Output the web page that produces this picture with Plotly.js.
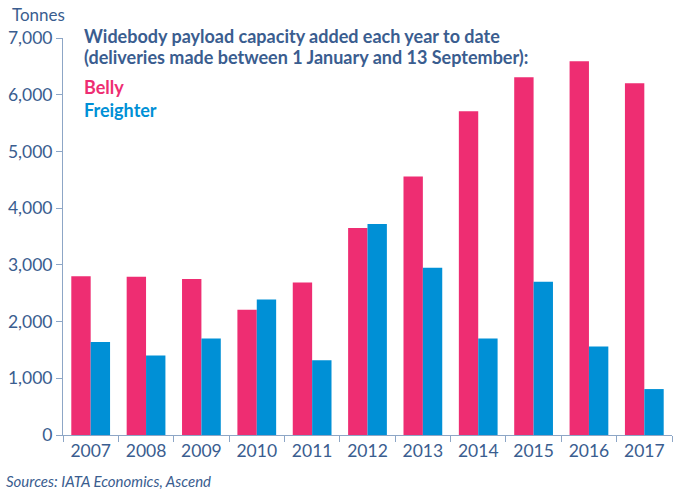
<!DOCTYPE html>
<html><head><meta charset="utf-8">
<script src="https://cdn.plot.ly/plotly-3.0.1.min.js"></script>
<style>html,body{margin:0;padding:0;background:#fff}#chart{width:675px;height:493px}</style>
</head><body><div id="chart"></div>
<script>
const years = ['2007','2008','2009','2010','2011','2012','2013','2014','2015','2016','2017'];
const belly = [2800, 2790, 2750, 2210, 2690, 3650, 4560, 5710, 6310, 6590, 6200];
const freighter = [1640, 1400, 1700, 2390, 1320, 3720, 2950, 1700, 2700, 1560, 810];
const tickVals = [0,1000,2000,3000,4000,5000,6000,7000];
const tickText = ['0','1,000','2,000','3,000','4,000','5,000','6,000','7,000'];

const txt = '#3A5D8F';
const fam = 'Lato, "Liberation Sans", sans-serif';
const data = [
  {type:'bar', name:'Belly', x:years, y:belly, marker:{color:'#EE2D72'}, hoverinfo:'y'},
  {type:'bar', name:'Freighter', x:years, y:freighter, marker:{color:'#0090D6'}, hoverinfo:'y'}
];
const layout = {
  width:675, height:493,
  margin:{l:63, r:3, t:38, b:58},
  barmode:'group', bargap:0.30, bargroupgap:0,
  showlegend:false,
  paper_bgcolor:'#fff', plot_bgcolor:'#fff',
  font:{family:fam, color:txt, size:15},
  xaxis:{type:'category', showgrid:false, showline:true, linecolor:'#8DA6C6', linewidth:1,
         ticks:'outside', tickson:'boundaries', ticklen:6, tickcolor:'#8DA6C6',
         tickfont:{size:17.5, color:txt, family:fam}},
  yaxis:{range:[0,7000], tickvals:tickVals, ticktext:tickText, showgrid:false, zeroline:false,
         showline:true, linecolor:'#8DA6C6', linewidth:1, ticks:'outside', ticklen:6, tickcolor:'#8DA6C6',
         tickfont:{size:17.5, color:txt, family:fam}},
  annotations:[
    {xref:'paper', yref:'paper', x:-0.087, y:1.058, xanchor:'left', yanchor:'middle', text:'Tonnes', showarrow:false, font:{size:17, color:txt, family:fam}},
    {xref:'paper', yref:'paper', x:0.031, y:1.005, xanchor:'left', yanchor:'middle', text:'<b>Widebody payload capacity added each year to date</b>', showarrow:false, font:{size:18, color:txt, family:fam}},
    {xref:'paper', yref:'paper', x:0.031, y:0.952, xanchor:'left', yanchor:'middle', text:'<b>(deliveries made between 1 January and 13 September):</b>', showarrow:false, font:{size:18, color:txt, family:fam}},
    {xref:'paper', yref:'paper', x:0.031, y:0.877, xanchor:'left', yanchor:'middle', text:'<b>Belly</b>', showarrow:false, font:{size:18, color:'#EE2D72', family:fam}},
    {xref:'paper', yref:'paper', x:0.031, y:0.819, xanchor:'left', yanchor:'middle', text:'<b>Freighter</b>', showarrow:false, font:{size:18, color:'#0090D6', family:fam}},
    {xref:'paper', yref:'paper', x:-0.097, y:-0.116, xanchor:'left', yanchor:'middle', text:'<i>Sources: IATA Economics, Ascend</i>', showarrow:false, font:{size:15, color:txt, family:fam}}
  ]
};
Plotly.newPlot('chart', data, layout, {displayModeBar:false, staticPlot:true});
</script></body></html>
